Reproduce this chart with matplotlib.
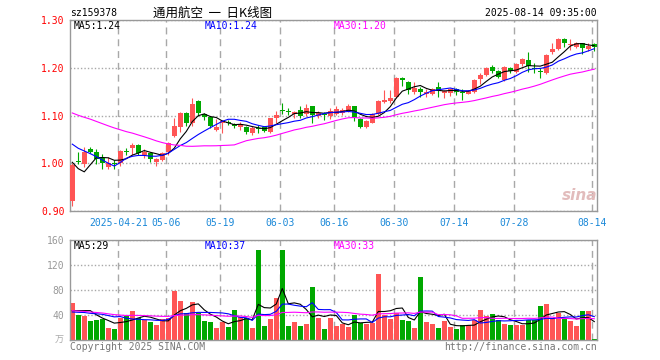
import numpy as np
import pandas as pd
import matplotlib
matplotlib.use('Agg')
import matplotlib.pyplot as plt

# daily candles, 2025-04-09 .. 2025-08-14
opens = [0.921, 1.005, 0.998, 1.030, 1.024, 1.012, 0.993, 1.000, 1.001, 1.026,
         1.031, 1.038, 1.017, 1.021, 1.003, 1.007, 1.024, 1.057, 1.075, 1.106,
         1.084, 1.131, 1.103, 1.096, 1.070, 1.085, 1.087, 1.082, 1.076, 1.075,
         1.063, 1.074, 1.075, 1.066, 1.094, 1.112, 1.109, 1.103, 1.112, 1.103,
         1.119, 1.099, 1.103, 1.099, 1.103, 1.105, 1.112, 1.119, 1.092, 1.075,
         1.085, 1.103, 1.129, 1.131, 1.138, 1.179, 1.170, 1.150, 1.155, 1.145,
         1.145, 1.160, 1.148, 1.148, 1.155, 1.149, 1.146, 1.150, 1.176, 1.185,
         1.202, 1.194, 1.174, 1.199, 1.192, 1.207, 1.216, 1.199, 1.193, 1.188,
         1.232, 1.239, 1.260, 1.248, 1.243, 1.251, 1.239, 1.250]
highs = [1.000, 1.024, 1.033, 1.035, 1.030, 1.020, 1.014, 1.006, 1.027, 1.031,
         1.042, 1.040, 1.029, 1.024, 1.010, 1.023, 1.044, 1.094, 1.108, 1.108,
         1.137, 1.132, 1.106, 1.098, 1.092, 1.091, 1.091, 1.085, 1.087, 1.078,
         1.078, 1.080, 1.078, 1.095, 1.110, 1.127, 1.115, 1.110, 1.119, 1.124,
         1.120, 1.110, 1.108, 1.115, 1.120, 1.115, 1.124, 1.120, 1.094, 1.091,
         1.106, 1.132, 1.153, 1.153, 1.181, 1.181, 1.172, 1.170, 1.160, 1.155,
         1.157, 1.170, 1.153, 1.158, 1.158, 1.155, 1.154, 1.176, 1.188, 1.202,
         1.205, 1.195, 1.203, 1.201, 1.209, 1.220, 1.232, 1.209, 1.199, 1.228,
         1.251, 1.262, 1.262, 1.260, 1.253, 1.252, 1.251, 1.252]
lows = [0.911, 0.998, 0.992, 1.021, 0.998, 0.987, 0.988, 0.989, 0.994, 1.017,
        1.017, 1.018, 1.012, 1.003, 0.994, 1.005, 1.017, 1.054, 1.066, 1.077,
        1.078, 1.099, 1.090, 1.073, 1.068, 1.063, 1.080, 1.074, 1.070, 1.062,
        1.060, 1.063, 1.065, 1.064, 1.084, 1.103, 1.101, 1.095, 1.094, 1.098,
        1.084, 1.094, 1.091, 1.092, 1.101, 1.101, 1.108, 1.089, 1.073, 1.073,
        1.084, 1.101, 1.126, 1.127, 1.136, 1.162, 1.145, 1.145, 1.139, 1.139,
        1.143, 1.139, 1.136, 1.140, 1.143, 1.132, 1.144, 1.148, 1.167, 1.183,
        1.190, 1.178, 1.172, 1.188, 1.190, 1.203, 1.192, 1.188, 1.178, 1.186,
        1.229, 1.237, 1.243, 1.237, 1.241, 1.229, 1.235, 1.236]
closes = [0.997, 1.003, 1.024, 1.024, 1.009, 1.000, 1.000, 0.998, 1.026, 1.023,
          1.038, 1.022, 1.024, 1.008, 1.008, 1.021, 1.043, 1.078, 1.106, 1.085,
          1.124, 1.105, 1.097, 1.078, 1.075, 1.088, 1.085, 1.078, 1.082, 1.066,
          1.073, 1.072, 1.068, 1.094, 1.101, 1.110, 1.107, 1.108, 1.100, 1.115,
          1.101, 1.106, 1.101, 1.110, 1.113, 1.112, 1.119, 1.094, 1.075, 1.089,
          1.103, 1.131, 1.133, 1.137, 1.179, 1.175, 1.153, 1.157, 1.150, 1.149,
          1.155, 1.152, 1.151, 1.155, 1.149, 1.147, 1.152, 1.174, 1.185, 1.199,
          1.194, 1.181, 1.201, 1.193, 1.207, 1.218, 1.204, 1.197, 1.191, 1.227,
          1.239, 1.260, 1.251, 1.250, 1.251, 1.241, 1.246, 1.243]
volumes = [60, 40, 39, 31, 32, 34, 20, 18, 36, 39,
           47, 36, 32, 29, 24, 33, 35, 79, 63, 43,
           61, 43, 31, 29, 20, 29, 21, 48, 37, 36,
           20, 144, 22, 34, 68, 144, 22, 29, 23, 26,
           85, 36, 18, 35, 22, 26, 21, 40, 28, 26,
           28, 106, 40, 34, 44, 32, 30, 20, 101, 29,
           26, 20, 30, 21, 18, 24, 24, 32, 48, 38,
           42, 32, 26, 24, 24, 24, 32, 32, 54, 58,
           36, 44, 35, 31, 22, 46, 46, 2]

# sessions before the window, only used for the moving averages
prior_close = [1.15, 1.15, 1.14, 1.15, 1.14, 1.14, 1.13, 1.14, 1.14, 1.13,
               1.14, 1.14, 1.13, 1.14, 1.13, 1.13, 1.14, 1.13, 1.14, 1.13,
               1.09, 1.08, 1.08, 1.07, 1.07, 1.07, 1.057, 0.95, 0.936]
prior_vol = [62, 55, 60, 54, 58, 61, 56, 59, 57,
             42, 38, 41, 39, 40, 43, 37, 40, 42, 38, 40,
             45, 42, 44, 40, 42, 40, 39, 31, 65]

date_pos = [8, 16, 25, 35, 44, 54, 64, 74, 87]
date_labels = ['2025-04-21', '05-06', '05-19', '06-03', '06-16', '06-30', '07-14', '07-28', '08-14']

price_ticks = [0.90, 1.00, 1.10, 1.20, 1.30]
vol_ticks = [0, 40, 80, 120, 160]

RED = '#ff5555'
GREEN = '#00a800'
GRID = '#a8a8a8'
MONO = 'DejaVu Sans Mono'


def ma(prior, vals, n):
    s = pd.Series(list(prior) + list(vals), dtype=float)
    return s.rolling(n).mean().values[len(prior):]


o = np.array(opens); h = np.array(highs); l = np.array(lows); c = np.array(closes)
v = np.array(volumes, dtype=float)
x = np.arange(len(c))
up = c >= o
cols = np.where(up, RED, GREEN)

W, H = 660, 360
fig = plt.figure(figsize=(6.6, 3.6), dpi=100)
ax = fig.add_axes([70 / W, 1 - 211 / H, 527 / W, 191 / H])
axv = fig.add_axes([70 / W, 1 - 340 / H, 527 / W, 100 / H])

grid_x = np.array(date_pos) - 0.3

for a in (ax, axv):
    a.set_xlim(-0.38, len(c) - 1 + 0.45)
    a.set_axisbelow(True)
    for s in a.spines.values():
        s.set_color('#999999')
        s.set_linewidth(1.0)
    a.set_xticks(grid_x)
    a.xaxis.grid(True, color=GRID, linewidth=1.0, linestyle=(0, (5, 3.5)))
    a.yaxis.grid(True, color=GRID, linewidth=1.0, linestyle=(0, (1, 1.5)))
    a.tick_params(length=0)

# candles
ax.vlines(x, l, h, colors=cols, lw=0.8, zorder=2)
body = np.maximum(np.abs(c - o), 0.0018)
ax.bar(x, body, bottom=np.minimum(o, c), width=0.78, color=cols, zorder=3)

ax.plot(x, ma(prior_close, c, 5), color='black', lw=0.8, zorder=4)
ax.plot(x, ma(prior_close, c, 10), color='#0000ff', lw=0.8, zorder=4)
ax.plot(x, ma(prior_close, c, 30), color='#ff00ff', lw=0.8, zorder=4)

ax.set_ylim(0.90, 1.30)
ax.set_yticks(price_ticks)
ax.set_yticklabels(['%.2f' % t for t in price_ticks], color='#ff0000',
                   fontsize=7, family=MONO)
ax.tick_params(axis='y', pad=4)
ax.set_xticklabels(date_labels, color='#1a88d8', fontsize=7, family=MONO)
ax.tick_params(axis='x', pad=5)

# volume
axv.bar(x, v, width=0.78, color=cols, zorder=2)
axv.plot(x, ma(prior_vol, v, 5), color='black', lw=0.8, zorder=4)
axv.plot(x, ma(prior_vol, v, 10), color='#0000ff', lw=0.8, zorder=4)
axv.plot(x, ma(prior_vol, v, 30), color='#ff00ff', lw=0.8, zorder=4)
axv.set_ylim(0, 160)
axv.set_yticks(vol_ticks)
axv.set_yticklabels([''] + [str(t) for t in vol_ticks[1:]], color='#999999',
                    fontsize=7, family=MONO)
axv.tick_params(axis='y', pad=4)
axv.set_xticklabels([])


def ftext(px, py, s, **kw):
    kw.setdefault('family', MONO)
    kw.setdefault('fontsize', 7)
    kw.setdefault('va', 'center')
    fig.text(px / W, 1 - py / H, s, **kw)


ftext(70, 13, 'sz159378', color='black')
ftext(213, 13, '通用航空  一  日K线图', ha='center', fontsize=9,
      family=['Noto Sans CJK SC', 'DejaVu Sans'], color='black')
ftext(597, 13, '2025-08-14 09:35:00', ha='right', color='black')

ftext(74, 26, 'MA5:1.24', color='black')
ftext(205, 26, 'MA10:1.24', color='#0000ff')
ftext(334, 26, 'MA30:1.20', color='#ff00ff')

ftext(74, 246, 'MA5:29', color='black')
ftext(205, 246, 'MA10:37', color='#0000ff')
ftext(334, 246, 'MA30:33', color='#ff00ff')

ftext(64, 340, '万', ha='right', fontsize=6.5,
      family=['Noto Sans CJK SC', 'DejaVu Sans'], color='#aaaaaa')
ftext(70, 347, 'Copyright 2025 SINA.COM', color='#777777')
ftext(597, 347, 'http://finance.sina.com.cn', ha='right', color='#777777')

# watermark
ftext(580, 196, 'sina', ha='center', fontsize=11, family='DejaVu Sans',
      style='italic', weight='bold', color='#e2bcbc')

fig.savefig('out.png', dpi=100)
